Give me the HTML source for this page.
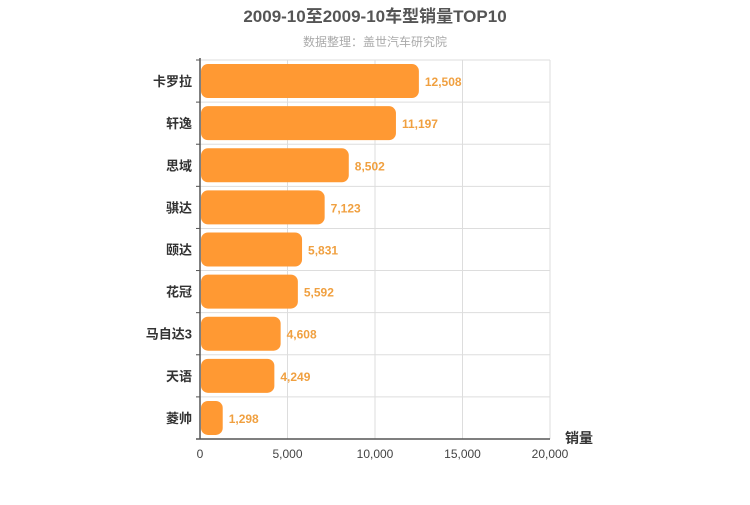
<!DOCTYPE html>
<html><head><meta charset="utf-8"><style>
body{margin:0;background:#fff;font-family:"Liberation Sans","Noto Sans CJK SC",sans-serif;}
svg text{font-family:"Liberation Sans","Noto Sans CJK SC",sans-serif;}
</style></head><body>
<svg id="c" width="750" height="500">
<text x="375" y="22" text-anchor="middle" font-size="17" font-weight="bold" fill="#555">2009-10至2009-10车型销量TOP10</text>
<text x="375" y="46" text-anchor="middle" font-size="12" fill="#aaa">数据整理：盖世汽车研究院</text>
<g id="g"></g>
</svg>
<script>
const categories=["卡罗拉","轩逸","思域","骐达","颐达","花冠","马自达3","天语","菱帅"];
const values=[12508,11197,8502,7123,5831,5592,4608,4249,1298];
const tickValues=[0,5000,10000,15000,20000];
const X0=200,X1=550,Y0=60,Y1=439,MAX=20000;
const x=v=>X0+(v/MAX)*(X1-X0);
const band=(Y1-Y0)/categories.length;
const y=i=>Y0+i*band;
const g=document.getElementById('g');
const NS="http://www.w3.org/2000/svg";
function mk(t,a){const e=document.createElementNS(NS,t);for(const k in a)e.setAttribute(k,a[k]);g.appendChild(e);return e;}
tickValues.forEach(v=>{
 const l=mk('line',{x1:x(v),x2:x(v),y1:Y0,y2:Y1,stroke:'#ddd'});
 
 
 const t=mk('text',{x:x(v),y:Y1+19,'text-anchor':'middle','font-size':12,fill:'#444'});
 t.textContent=v.toLocaleString('en-US');
 
 
});
for(let i=0;i<=categories.length;i++){
 const l=mk('line',{x1:X0-4,x2:X1,y1:y(i),y2:y(i),stroke:'#ddd'});
 
 
 const tk=mk('line',{x1:X0-4,x2:X0,y1:y(i),y2:y(i),stroke:'#555'});
 
 
}
categories.forEach((c,i)=>{
 const cy=y(i)+band/2;
 const r=mk('rect',{x:X0+1,y:cy-17,width:x(values[i])-X0-1,height:34,rx:7,fill:'#ff9933'});
 
 
 const lb=mk('text',{x:x(values[i])+6,y:cy+5,'font-size':12,fill:'#f0a040','font-weight':'bold'});
 lb.textContent=values[i].toLocaleString('en-US');
 
 
 const ct=mk('text',{x:X0-8,y:cy+5,'text-anchor':'end','font-size':13,fill:'#333','font-weight':'bold'});
 ct.textContent=c;
 
 
});
const ax=mk('line',{x1:X0,x2:X0,y1:Y0-2,y2:Y1,stroke:'#555','stroke-width':1.5});


const bx=mk('line',{x1:X0-4,x2:X1,y1:Y1,y2:Y1,stroke:'#555','stroke-width':1.5});


const at=mk('text',{x:565,y:443,'font-size':14,fill:'#333','font-weight':'bold'});
at.textContent='销量';


</script>
</body></html>
